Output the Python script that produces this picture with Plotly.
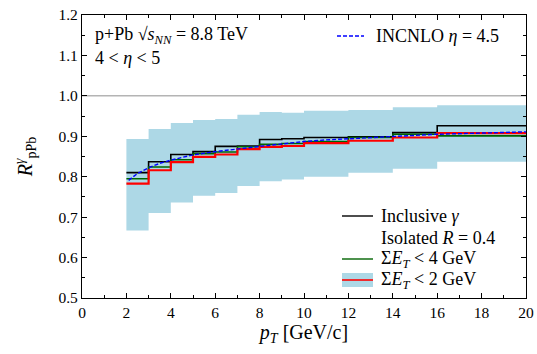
import plotly.graph_objects as go

# pT bin edges [GeV/c]
edges = [2, 3, 4, 5, 6, 7, 8, 9, 10, 12, 14, 16, 20]

# nuclear modification factor per bin
band_lo = [0.667, 0.710, 0.736, 0.753, 0.760, 0.777, 0.789, 0.793, 0.800, 0.810, 0.820, 0.837]
band_hi = [0.893, 0.918, 0.933, 0.940, 0.943, 0.953, 0.960, 0.958, 0.963, 0.965, 0.972, 0.977]
inclusive = [0.810, 0.837, 0.855, 0.862, 0.875, 0.876, 0.892, 0.894, 0.897, 0.899, 0.909, 0.926]
iso_et4 = [0.795, 0.824, 0.842, 0.857, 0.861, 0.874, 0.880, 0.882, 0.887, 0.897, 0.905, 0.901]
iso_et2 = [0.783, 0.816, 0.836, 0.849, 0.855, 0.868, 0.874, 0.876, 0.883, 0.889, 0.897, 0.908]

# INCNLO curve at eta = 4.5
nlo_pt = [2.1, 2.5, 3, 3.5, 4, 5, 6, 7, 8, 9, 10, 11, 12, 14, 16, 18, 20]
nlo_r = [0.791, 0.808, 0.822, 0.833, 0.841, 0.854, 0.862, 0.869, 0.875, 0.881,
         0.887, 0.891, 0.894, 0.899, 0.905, 0.908, 0.911]


def steps(vals):
    # repeat the last value so the hv step closes at the final edge
    return list(vals) + [vals[-1]]


FONT = "Liberation Serif, serif"

fig = go.Figure()

# uncertainty band
fig.add_trace(go.Scatter(x=edges, y=steps(band_lo), mode="lines", line_shape="hv",
                         line=dict(width=0), showlegend=False, hoverinfo="skip"))
fig.add_trace(go.Scatter(x=edges, y=steps(band_hi), mode="lines", line_shape="hv",
                         line=dict(width=0), fill="tonexty", fillcolor="#add8e6",
                         showlegend=False, hoverinfo="skip"))

# reference line at unity
fig.add_trace(go.Scatter(x=[0, 20], y=[1.0, 1.0], mode="lines",
                         line=dict(color="#b4b4b4", width=1.5), showlegend=False))

fig.add_trace(go.Scatter(x=edges, y=steps(inclusive), mode="lines", line_shape="hv",
                         line=dict(color="black", width=1.6), showlegend=False))
fig.add_trace(go.Scatter(x=edges, y=steps(iso_et4), mode="lines", line_shape="hv",
                         line=dict(color="#006400", width=1.6), showlegend=False))
fig.add_trace(go.Scatter(x=edges, y=steps(iso_et2), mode="lines", line_shape="hv",
                         line=dict(color="#ff0000", width=2.2), showlegend=False))
fig.add_trace(go.Scatter(x=nlo_pt, y=nlo_r, mode="lines",
                         line=dict(color="#0000ff", width=1.4, dash="4px,2px"),
                         showlegend=False))

# plot-area pixel geometry -> paper fraction helpers
L, R, T, B = 82, 526, 15, 298
W, H = R - L, B - T


def px(x):
    return (x - L) / W


def py(y):
    return (B - y) / H


def text(x, y, s, size=18):
    fig.add_annotation(x=px(x), y=py(y), xref="paper", yref="paper", text=s,
                       showarrow=False, xanchor="left", yanchor="middle",
                       font=dict(family=FONT, size=size, color="black"))


def sample_line(y, color, width=1.4, dash="solid"):
    fig.add_shape(type="line", xref="paper", yref="paper", x0=px(342), x1=px(373),
                  y0=py(y), y1=py(y), line=dict(color=color, width=width, dash=dash))


# top labels
text(93, 36, "p+Pb √<i>s</i><sub><i>NN</i></sub> = 8.8 TeV")
text(93, 58, "4 &lt; <i>η</i> &lt; 5")
text(374, 36, "INCNLO <i>η</i> = 4.5")
fig.add_shape(type="line", xref="paper", yref="paper", x0=px(337), x1=px(364),
              y0=py(36), y1=py(36), line=dict(color="#0000ff", width=1.4, dash="4px,2px"))

# lower legend
rows = [216, 238, 259, 280]
text(379, rows[0], "Inclusive <i>γ</i>")
text(379, rows[1], "Isolated <i>R</i> = 0.4")
text(379, rows[2], "Σ<i>E</i><sub><i>T</i></sub> &lt; 4 GeV")
text(379, rows[3], "Σ<i>E</i><sub><i>T</i></sub> &lt; 2 GeV")
sample_line(rows[0], "black")
sample_line(rows[2], "#006400")
fig.add_shape(type="rect", xref="paper", yref="paper", x0=px(342), x1=px(373),
              y0=py(287), y1=py(273), fillcolor="#add8e6", line=dict(width=0))
sample_line(rows[3], "#ff0000", width=1.6)

axis_common = dict(showgrid=False, zeroline=False, showline=True, linecolor="black",
                   linewidth=1.2, mirror="allticks", ticks="inside", ticklen=5,
                   tickcolor="black", automargin=False,
                   tickfont=dict(family=FONT, size=15.5, color="black"))

fig.update_layout(
    width=537, height=354,
    margin=dict(l=L, r=537 - R, t=T, b=354 - B),
    paper_bgcolor="white", plot_bgcolor="white",
    xaxis=dict(range=[0, 20], tickvals=list(range(0, 21, 2)),
               minor=dict(tickvals=list(range(1, 20, 2)), ticks="inside", ticklen=3, tickcolor="black"),
               title=dict(text="<i>p</i><sub><i>T</i></sub> [GeV/c]", standoff=3,
                          font=dict(family=FONT, size=20, color="black")),
               **axis_common),
    yaxis=dict(range=[0.5, 1.2], tickvals=[0.5, 0.6, 0.7, 0.8, 0.9, 1.0, 1.1, 1.2],
               ticktext=["0.5", "0.6", "0.7", "0.8", "0.9", "1.0", "1.1", "1.2"],
               minor=dict(tickvals=[0.55, 0.65, 0.75, 0.85, 0.95, 1.05, 1.15], ticks="inside",
                          ticklen=3, tickcolor="black"),
               title=dict(text="<i>R</i><sup><i>γ</i></sup><sub>pPb</sub>", standoff=20,
                          font=dict(family=FONT, size=20, color="black")),
               **axis_common),
)

fig.write_html("out.html")
